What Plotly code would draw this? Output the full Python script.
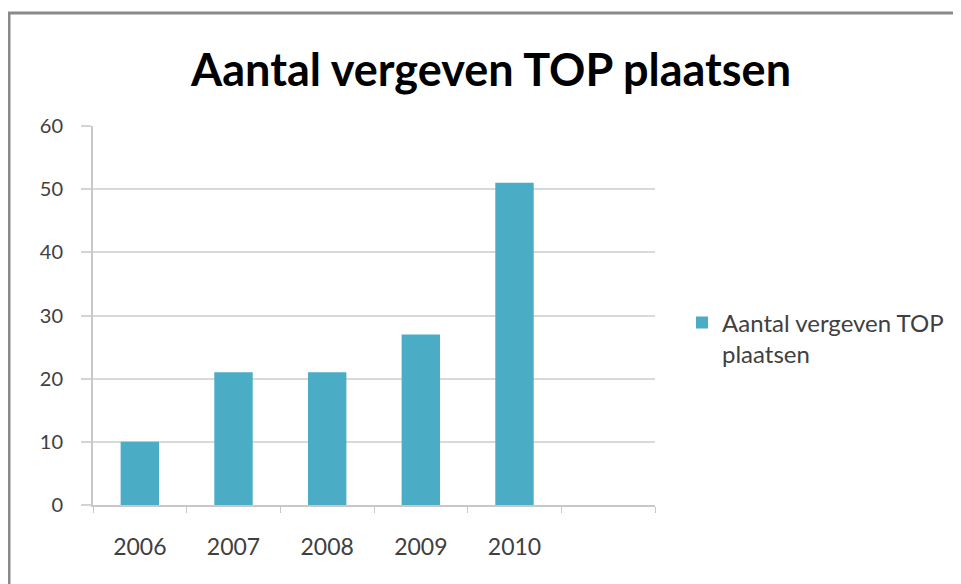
import plotly.graph_objects as go

years = ["2006", "2007", "2008", "2009", "2010"]
aantal = [10, 21, 21, 27, 51]
series_name = "Aantal vergeven TOP<br>plaatsen"
title = "Aantal vergeven TOP plaatsen"

pos = list(range(len(years)))
# boundaries between categories, plus one empty slot after 2010
bounds = [i - 0.5 for i in range(len(years) + 2)]

W, H = 961, 584
# the page puts the figure 8px in from the corner, so shift everything by -8
L, T, R, B = 85, 118, 647, 497   # plot area in figure pixels
pw, ph = R - L, B - T


def px(x):
    return (x - L) / pw


def py(y):
    return (B - y) / ph


fig = go.Figure()
fig.add_trace(go.Bar(x=pos, y=aantal, name=series_name,
                     marker=dict(color="#4BACC6", line=dict(width=0)),
                     showlegend=True))

fig.update_xaxes(range=[-0.5, len(years) + 0.5], tickvals=pos, ticktext=years,
                 ticks="", showgrid=False, zeroline=False,
                 showline=True, linecolor="#c8c8c8", linewidth=2,
                 ticklabelstandoff=20,
                 tickfont=dict(family="Lato", size=23, color="#404040"),
                 minor=dict(tickvals=bounds, ticks="outside", ticklen=6,
                            tickcolor="#c8c8c8", tickwidth=1, showgrid=False))
fig.update_yaxes(range=[0, 60], dtick=10, ticks="outside", ticklen=10,
                 tickcolor="#d4d4d4", tickwidth=2,
                 showgrid=True, gridcolor="#d9d9d9", gridwidth=2,
                 zeroline=False, showline=True, linecolor="#c8c8c8", linewidth=2,
                 ticklabelstandoff=14,
                 tickfont=dict(family="Lato", size=20, color="#404040"))

fig.update_layout(
    width=W, height=H,
    margin=dict(l=L, r=W - R, t=T, b=H - B),
    paper_bgcolor="white", plot_bgcolor="white",
    bargap=0.59,
    title=dict(text="<b>" + title + "</b>", x=483 / W, xanchor="center",
               y=1 - 62 / H, yanchor="middle",
               font=dict(family="Lato", size=45, color="black")),
    legend=dict(x=px(674), xanchor="left", y=0.54, yanchor="top", valign="top",
                font=dict(family="Lato", size=24, color="#404040"),
                itemwidth=30, bgcolor="rgba(0,0,0,0)"),
    shapes=[
        dict(type="line", xref="paper", yref="paper",
             x0=px(0), x1=px(W), y0=py(5), y1=py(5),
             line=dict(color="#8a8a8a", width=3)),
        dict(type="line", xref="paper", yref="paper",
             x0=px(1), x1=px(1), y0=py(5), y1=py(H + 5),
             line=dict(color="#8a8a8a", width=3)),
    ],
)

fig.write_html("out.html")
